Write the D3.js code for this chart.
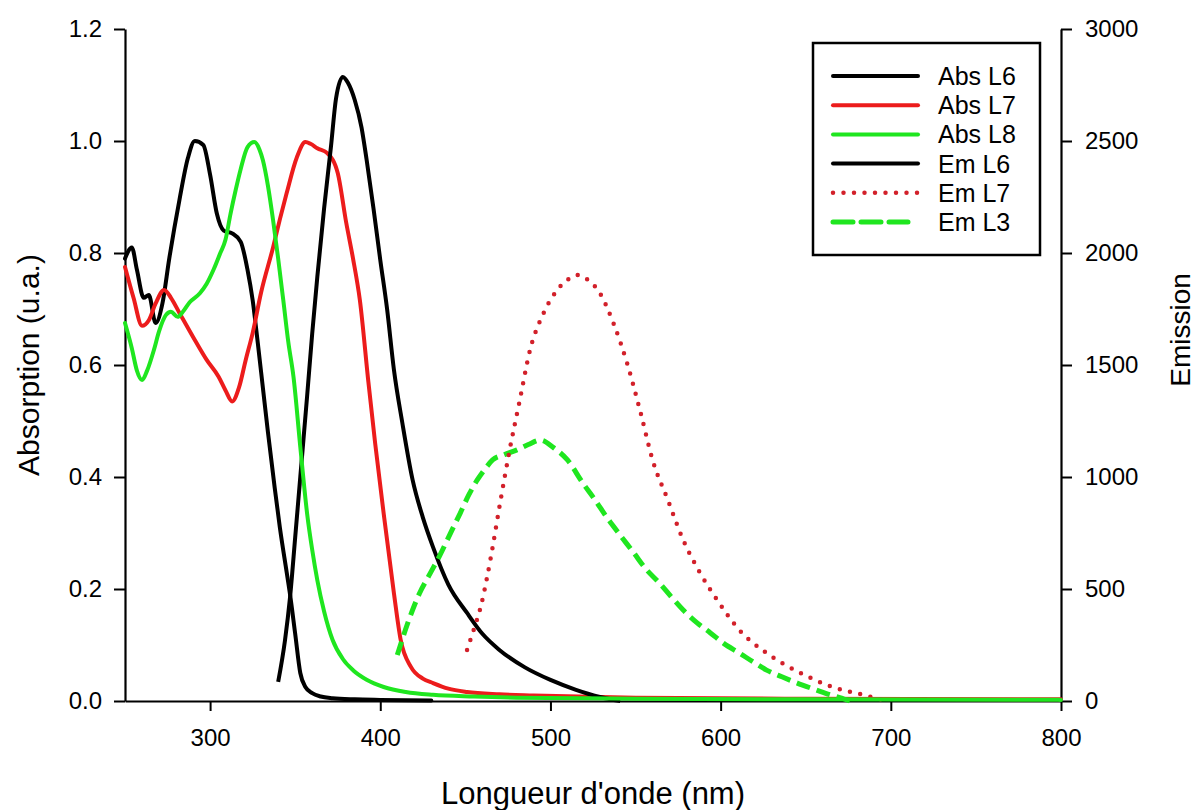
<!DOCTYPE html>
<html>
<head>
<meta charset="utf-8">
<script src="https://cdn.jsdelivr.net/npm/d3@7"></script>
<style>
  html, body { margin: 0; padding: 0; background: #fff; }
  svg { display: block; }
  text { font-family: "Liberation Sans", Arial, sans-serif; fill: #000; }
</style>
</head>
<body>
<svg id="chart" width="1197" height="810"></svg>
<script>
// ---------- DATA ----------
const xTicks = [300, 400, 500, 600, 700, 800];
const yLeftTicks = [0.0, 0.2, 0.4, 0.6, 0.8, 1.0, 1.2];
const yRightTicks = [0, 500, 1000, 1500, 2000, 2500, 3000];

const absL6_x = [250,254,257,261,264,268,272,276,282,287,291,296,300,304,308,313,318,322,325,328,331,334,338,341,345,347,350,353,356,360,365,372,385,400,430];
const absL6_y = [0.79,0.81,0.77,0.72,0.725,0.675,0.71,0.79,0.895,0.97,1.0,0.993,0.94,0.87,0.84,0.835,0.82,0.77,0.716,0.64,0.56,0.48,0.38,0.31,0.23,0.19,0.12,0.05,0.025,0.014,0.008,0.005,0.003,0.002,0.001];

const absL7_x = [250,255,260,264,268,273,277,282,290,298,305,309,313,317,321,325,330,337,341,345,351,356,359,363,369,375,380,384,388,393,397,402,408,412,418,425,431,440,451,470,490,550,650,800];
const absL7_y = [0.775,0.72,0.67,0.68,0.71,0.734,0.72,0.693,0.65,0.609,0.579,0.555,0.535,0.56,0.61,0.657,0.73,0.81,0.86,0.907,0.971,0.998,0.995,0.987,0.978,0.943,0.854,0.79,0.716,0.57,0.46,0.335,0.193,0.109,0.061,0.04,0.032,0.022,0.016,0.012,0.01,0.006,0.004,0.003];

const absL8_x = [250,254,257,260,263,267,270,274,277,281,284,288,294,298,302,306,309,312,315,318,322,326,329,331,334,337,340,343,346,349,353,357,360,363,367,372,378,384,392,402,415,431,455,480,550,650,800];
const absL8_y = [0.675,0.63,0.59,0.573,0.59,0.627,0.66,0.689,0.695,0.686,0.695,0.712,0.728,0.745,0.77,0.80,0.823,0.87,0.912,0.95,0.989,0.998,0.985,0.966,0.92,0.859,0.79,0.716,0.64,0.579,0.454,0.335,0.27,0.216,0.16,0.109,0.075,0.055,0.038,0.025,0.016,0.011,0.008,0.006,0.004,0.003,0.002];

const emL6_x = [340,344,347,350,353,357,360,363,367,371,374,378,381,385,389,392,396,400,404,408,413,419,425,431,440,451,460,470,485,500,515,529,541];
const emL6_y = [85,270,464,730,1000,1360,1640,1893,2200,2473,2690,2786,2760,2683,2560,2415,2200,1969,1750,1480,1240,987,820,687,520,393,300,228,150,94,50,18,0];

const emL7_x = [451,455,459,465,470,476,482,488,496,504,510,516,522,529,537,545,553,560,569,578,588,598,611,627,647,666,684,698];
const emL7_y = [228,320,420,643,866,1120,1344,1567,1732,1835,1880,1902,1880,1821,1687,1509,1286,1076,897,719,571,451,317,214,125,62,27,0];

const emL3_x = [410,416,423,429,435,441,447,452,457,462,466,473,480,487,494,502,510,519,526,533,541,549,556,564,571,578,586,594,602,611,619,627,636,645,654,663,670,676];
const emL3_y = [205,345,480,565,650,745,839,920,987,1040,1076,1100,1120,1145,1165,1130,1076,973,900,821,740,661,590,527,465,406,350,304,256,214,175,138,108,80,55,31,15,0];

const legendLabels = ["Abs L6", "Abs L7", "Abs L8", "Em L6", "Em L7", "Em L3"];

// ---------- LAYOUT ----------
const svg = d3.select("#chart");
const mLeft = 125, mRight = 1061, mTop = 29, mBottom = 701;
const x = d3.scaleLinear().domain([250, 800]).range([mLeft, mRight]);
const yL = d3.scaleLinear().domain([0, 1.2]).range([mBottom, mTop]);
const yR = d3.scaleLinear().domain([0, 3000]).range([mBottom, mTop]);

const RED = "#ec1c1c", GREEN = "#1fe61f", DOTRED = "#d2202a";

const series = [
  {xs: absL6_x, ys: absL6_y, scale: yL, color: "#000", width: 4, dash: null, cap: "round"},
  {xs: absL7_x, ys: absL7_y, scale: yL, color: RED, width: 4, dash: null, cap: "round"},
  {xs: emL6_x, ys: emL6_y, scale: yR, color: "#000", width: 4, dash: null, cap: "butt"},
  {xs: emL3_x, ys: emL3_y, scale: yR, color: GREEN, width: 5, dash: "14,7", cap: "butt"},
  {xs: emL7_x, ys: emL7_y, scale: yR, color: DOTRED, width: 4.5, dash: "0,10.5", cap: "round"},
  {xs: absL8_x, ys: absL8_y, scale: yL, color: GREEN, width: 4, dash: null, cap: "round"}
];

// axes lines
const fontTick = "24px";
const axL = svg.append("g").attr("transform", `translate(${mLeft},0)`)
  .call(d3.axisLeft(yL).tickValues(yLeftTicks).tickFormat(d3.format(".1f")).tickSize(11).tickSizeOuter(0).tickPadding(12));
const axR = svg.append("g").attr("transform", `translate(${mRight},0)`)
  .call(d3.axisRight(yR).tickValues(yRightTicks).tickFormat(d3.format("d")).tickSize(11).tickSizeOuter(0).tickPadding(13));
const axB = svg.append("g").attr("transform", `translate(0,${mBottom})`)
  .call(d3.axisBottom(x).tickValues(xTicks).tickFormat(d3.format("d")).tickSize(10).tickSizeOuter(0).tickPadding(18));
[axL, axR, axB].forEach(g => {
  g.selectAll("path.domain").attr("stroke", "#000").attr("stroke-width", 2.2);
  g.selectAll(".tick line").attr("stroke", "#000").attr("stroke-width", 2);
  g.selectAll(".tick text").style("font-size", fontTick).style("font-family", "Liberation Sans, Arial, sans-serif").attr("fill", "#000");
});

// curves
const plot = svg.append("g");
series.forEach(s => {
  const pts = s.xs.map((v, i) => [v, s.ys[i]]);
  const line = d3.line().x(d => x(d[0])).y(d => s.scale(d[1])).curve(d3.curveMonotoneX);
  plot.append("path").attr("d", line(pts)).attr("fill", "none")
    .attr("stroke", s.color).attr("stroke-width", s.width)
    .attr("stroke-linecap", s.cap).attr("stroke-linejoin", "round")
    .attr("stroke-dasharray", s.dash);
});

// titles
svg.append("text").attr("x", (mLeft + mRight) / 2).attr("y", 804).attr("text-anchor", "middle")
  .style("font-size", "31px").text("Longueur d'onde (nm)");
svg.append("text").attr("transform", `translate(39,${(mTop + mBottom) / 2}) rotate(-90)`).attr("text-anchor", "middle")
  .style("font-size", "30px").text("Absorption (u.a.)");
svg.append("text").attr("transform", `translate(1190,330) rotate(-90)`).attr("text-anchor", "middle")
  .style("font-size", "28px").text("Emission");

// legend
const lg = svg.append("g");
lg.append("rect").attr("x", 813).attr("y", 43).attr("width", 227).attr("height", 212)
  .attr("fill", "#fff").attr("stroke", "#000").attr("stroke-width", 2.5);
const legStyles = [
  {color: "#000", width: 4, dash: null, cap: "round"},
  {color: RED, width: 4, dash: null, cap: "round"},
  {color: GREEN, width: 4, dash: null, cap: "round"},
  {color: "#000", width: 4, dash: null, cap: "round"},
  {color: DOTRED, width: 4.5, dash: "0,10.5", cap: "round"},
  {color: GREEN, width: 5, dash: "20,8", cap: "round"}
];
legendLabels.forEach((lab, i) => {
  const yy = 76 + i * 29.2;
  const st = legStyles[i];
  lg.append("line").attr("x1", 833).attr("x2", i === 5 ? 908 : 918).attr("y1", yy).attr("y2", yy)
    .attr("stroke", st.color).attr("stroke-width", st.width).attr("stroke-linecap", st.cap)
    .attr("stroke-dasharray", st.dash);
  lg.append("text").attr("x", 938).attr("y", yy).attr("dy", "0.36em").style("font-size", "25px").text(lab);
});
</script>
</body>
</html>
